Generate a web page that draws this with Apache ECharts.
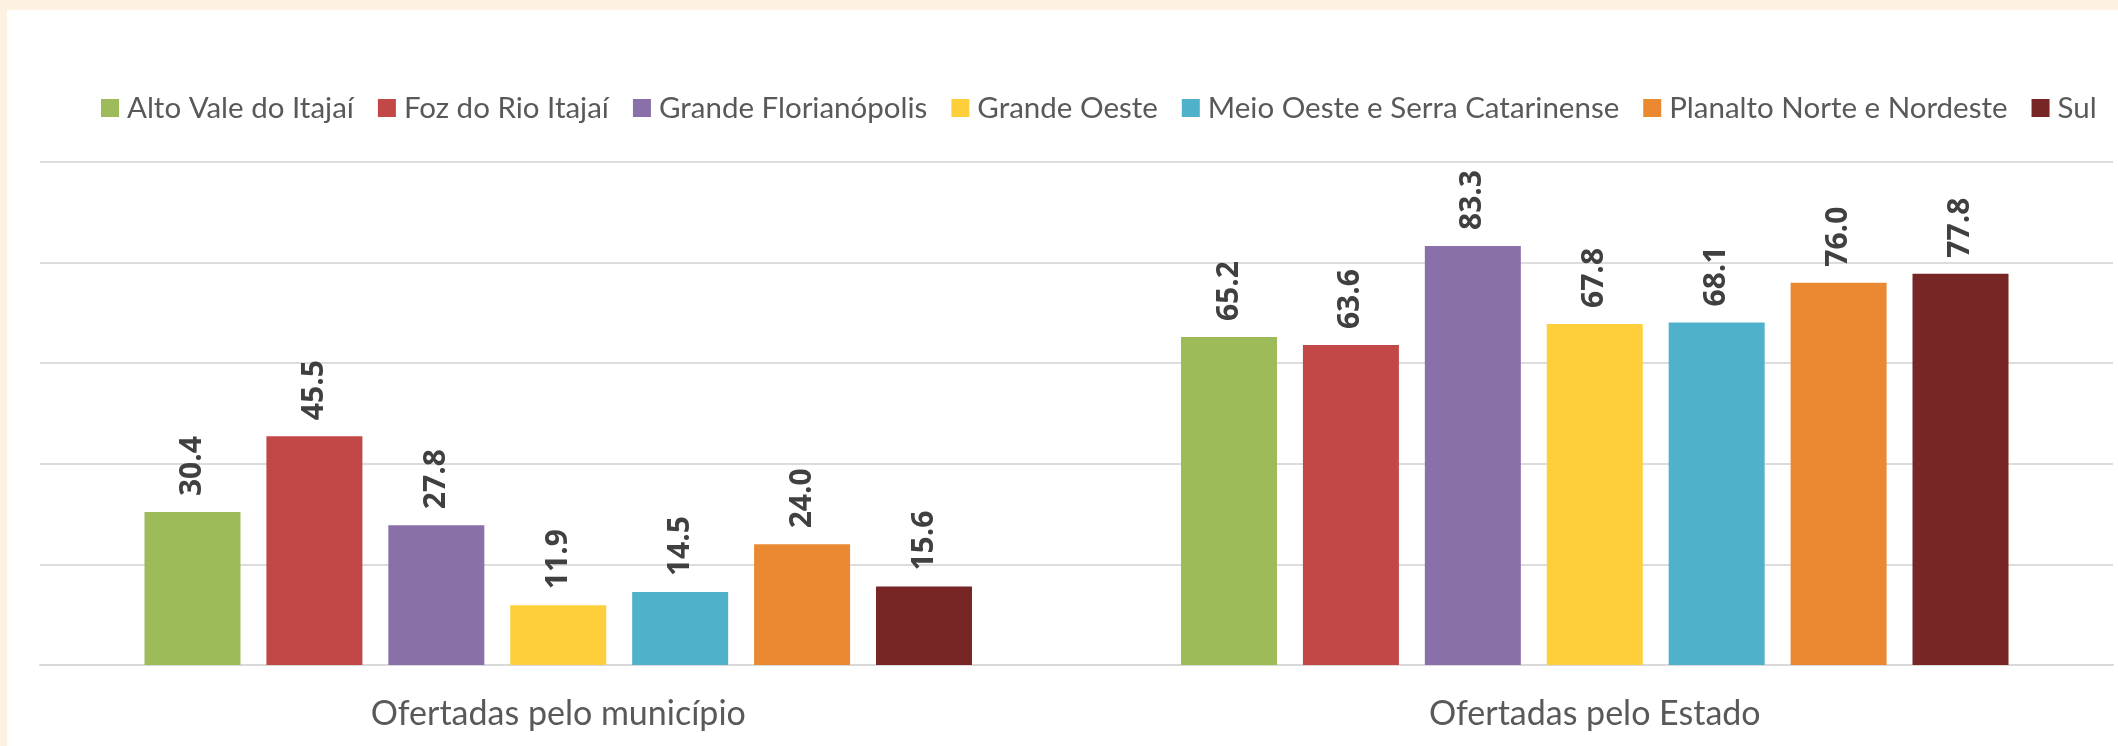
<!DOCTYPE html>
<html>
<head>
<meta charset="utf-8">
<script src="https://cdn.jsdelivr.net/npm/echarts@6/dist/echarts.min.js"></script>
<style>
html,body{margin:0;padding:0;background:#fdf2e2;}
#chart{position:absolute;left:0;top:0;width:2118px;height:746px;}
</style>
</head>
<body>
<div id="chart"></div>
<script>
const categories = ['Ofertadas pelo município', 'Ofertadas pelo Estado'];
const seriesNames = ['Alto Vale do Itajaí', 'Foz do Rio Itajaí', 'Grande Florianópolis', 'Grande Oeste', 'Meio Oeste e Serra Catarinense', 'Planalto Norte e Nordeste', 'Sul'];
const altoVale = [30.4, 65.2];
const fozRio = [45.5, 63.6];
const grandeFloripa = [27.8, 83.3];
const grandeOeste = [11.9, 67.8];
const meioOeste = [14.5, 68.1];
const planaltoNorte = [24.0, 76.0];
const sul = [15.6, 77.8];
const colors = ['#9dbb58', '#c24848', '#8a70a8', '#fecf3a', '#50b1cb', '#eb8932', '#782525'];
const allValues = [altoVale, fozRio, grandeFloripa, grandeOeste, meioOeste, planaltoNorte, sul];

const chart = echarts.init(document.getElementById('chart'), null, {renderer: 'canvas'});
const series = seriesNames.map((name, i) => ({
  name: name,
  type: 'bar',
  data: allValues[i],
  barWidth: 96,
  barGap: '27%',
  itemStyle: {color: colors[i]},
  label: {
    show: true,
    position: 'top',
    rotate: 90,
    align: 'left',
    verticalAlign: 'middle',
    distance: 16,
    formatter: p => p.value.toFixed(1),
    fontFamily: 'Open Sans',
    fontWeight: 'bold',
    fontSize: 30,
    color: '#404040'
  }
}));

chart.setOption({
  backgroundColor: '#fdf2e2',
  animation: false,
  color: colors,
  graphic: [{
    type: 'rect',
    z: -10,
    silent: true,
    shape: {x: 7, y: 10, width: 2111, height: 736},
    style: {fill: '#ffffff'}
  }],
  legend: {
    top: 88,
    left: 96,
    itemWidth: 18,
    itemHeight: 18,
    itemGap: 24,
    icon: 'rect',
    textStyle: {fontFamily: 'Lato', fontSize: 29.5, color: '#595959', padding: [0, 0, 0, 3]},
    data: seriesNames
  },
  grid: {left: 40, right: 5, top: 162, bottom: 81, containLabel: false},
  xAxis: {
    type: 'category',
    data: categories,
    axisLine: {show: true, lineStyle: {color: '#d9d9d9', width: 2}},
    axisTick: {show: false},
    axisLabel: {fontFamily: 'Lato', fontSize: 34, color: '#595959', margin: 32}
  },
  yAxis: {
    type: 'value',
    min: 0,
    max: 100,
    interval: 20,
    axisLabel: {show: false},
    axisLine: {show: false},
    axisTick: {show: false},
    splitLine: {lineStyle: {color: '#dcdcdc', width: 2}}
  },
  series: series
});
</script>
</body>
</html>
